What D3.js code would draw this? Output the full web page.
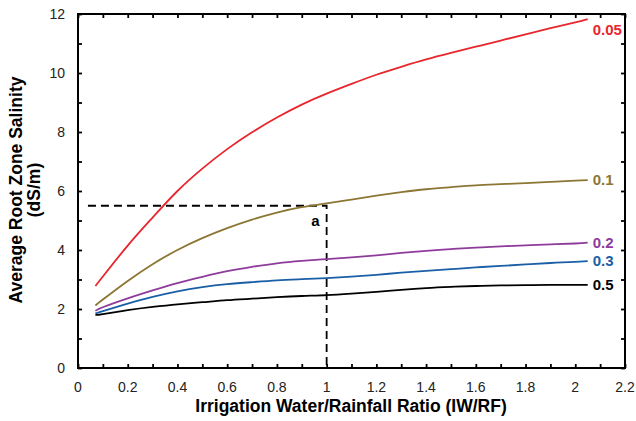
<!DOCTYPE html>
<html>
<head>
<meta charset="utf-8">
<script src="https://cdn.jsdelivr.net/npm/d3@7"></script>
<style>
  body { margin: 0; background: #fff; }
  text { font-family: "Liberation Sans", Arial, sans-serif; }
</style>
</head>
<body>
<script>
// ratio of irrigation water to rainfall
var ratio = [0.07, 0.1, 0.2, 0.3, 0.4, 0.5, 0.6, 0.7, 0.8, 0.9, 1.0, 1.1, 1.2, 1.3, 1.4, 1.5, 1.6, 1.7, 1.8, 1.9, 2.0, 2.05]

// average root zone salinity per leaching fraction
var lf005 = [2.78, 3.1, 4.15, 5.1, 6.0, 6.76, 7.42, 7.99, 8.49, 8.93, 9.3, 9.63, 9.94, 10.21, 10.46, 10.68, 10.89, 11.1, 11.31, 11.52, 11.72, 11.83]
var lf01 = [2.12, 2.32, 2.95, 3.52, 4.0, 4.4, 4.74, 5.03, 5.27, 5.45, 5.58, 5.71, 5.84, 5.96, 6.06, 6.13, 6.19, 6.23, 6.27, 6.31, 6.35, 6.37]
var lf02 = [1.94, 2.06, 2.36, 2.63, 2.88, 3.09, 3.28, 3.43, 3.55, 3.63, 3.69, 3.75, 3.82, 3.9, 3.97, 4.03, 4.08, 4.12, 4.16, 4.19, 4.22, 4.25]
var lf03 = [1.85, 1.93, 2.18, 2.41, 2.6, 2.74, 2.84, 2.91, 2.97, 3.01, 3.05, 3.1, 3.16, 3.23, 3.29, 3.35, 3.41, 3.46, 3.51, 3.56, 3.6, 3.62]
var lf05 = [1.8, 1.83, 1.96, 2.07, 2.16, 2.23, 2.3, 2.35, 2.4, 2.44, 2.47, 2.52, 2.58, 2.65, 2.71, 2.75, 2.78, 2.8, 2.81, 2.82, 2.82, 2.82]

var seriesNames = ['0.05', '0.1', '0.2', '0.3', '0.5']
var seriesValues = [lf005, lf01, lf02, lf03, lf05]
var colors = ['#e8262e', '#8c7634', '#8e3b9c', '#1a5fa6', '#000000']

var xTicks = [0, 0.2, 0.4, 0.6, 0.8, 1, 1.2, 1.4, 1.6, 1.8, 2, 2.2]
var yTicks = [0, 2, 4, 6, 8, 10, 12]

// point "a": ratio 1.0 gives 5.5 dS/m on the 0.1 curve
var markX = 1.0
var markY = 5.5
var markStart = 0.04

var width = 636
var height = 421
var plotLeft = 78, plotRight = 625, plotTop = 14, plotBottom = 368

var svg = d3.select('body')
    .append('svg')
    .attr('width', width)
    .attr('height', height)

var x = d3.scaleLinear()
    .domain([0, 2.2])
    .range([plotLeft, plotRight])

var y = d3.scaleLinear()
    .domain([0, 12])
    .range([plotBottom, plotTop])

var minorX = d3.range(0, 2.21, 0.1)
var minorY = d3.range(0, 12.1, 1)

// inward ticks on all four sides
function tickAxis(axis, g) {
    axis(g)
    g.select('.domain').remove()
    g.selectAll('line').attr('stroke', '#000').attr('stroke-width', 1.8)
}

tickAxis(d3.axisTop(x).tickValues(minorX).tickSize(4).tickFormat(''),
    svg.append('g').attr('transform', 'translate(0,' + plotBottom + ')'))
tickAxis(d3.axisBottom(x).tickValues(minorX).tickSize(4).tickFormat(''),
    svg.append('g').attr('transform', 'translate(0,' + plotTop + ')'))
tickAxis(d3.axisRight(y).tickValues(minorY).tickSize(4).tickFormat(''),
    svg.append('g').attr('transform', 'translate(' + plotLeft + ',0)'))
tickAxis(d3.axisLeft(y).tickValues(minorY).tickSize(4).tickFormat(''),
    svg.append('g').attr('transform', 'translate(' + plotRight + ',0)'))

// tick labels
svg.append('g').selectAll('text')
    .data(xTicks)
    .enter().append('text')
    .attr('x', d => x(d))
    .attr('y', plotBottom + 24)
    .attr('text-anchor', 'middle')
    .attr('font-size', 14)
    .attr('fill', '#222')
    .text(d => d)

svg.append('g').selectAll('text')
    .data(yTicks)
    .enter().append('text')
    .attr('x', plotLeft - 13)
    .attr('y', d => y(d) + 5)
    .attr('text-anchor', 'end')
    .attr('font-size', 14)
    .attr('fill', '#222')
    .text(d => d)

// frame
svg.append('rect')
    .attr('x', plotLeft)
    .attr('y', plotTop)
    .attr('width', plotRight - plotLeft)
    .attr('height', plotBottom - plotTop)
    .attr('fill', 'none')
    .attr('stroke', '#000')
    .attr('stroke-width', 2)

// dashed guide lines
svg.append('path')
    .attr('d', 'M' + x(markStart) + ',' + y(markY) + 'H' + x(markX) + 'V' + y(0))
    .attr('fill', 'none')
    .attr('stroke', '#000')
    .attr('stroke-width', 1.8)
    .attr('stroke-dasharray', '8,5')

svg.append('text')
    .attr('x', x(markX) - 7)
    .attr('y', y(markY) + 20)
    .attr('text-anchor', 'end')
    .attr('font-size', 15)
    .attr('font-weight', 'bold')
    .text('a')

var line = d3.line()
    .x((d, i) => x(ratio[i]))
    .y(d => y(d))
    .curve(d3.curveNatural)

seriesValues.forEach((vals, k) => {
    svg.append('path')
        .datum(vals)
        .attr('fill', 'none')
        .attr('stroke', colors[k])
        .attr('stroke-width', 1.8)
        .attr('d', line)

    svg.append('text')
        .attr('x', x(ratio[ratio.length - 1]) + 5)
        .attr('y', y(vals[vals.length - 1]) + (k == 0 ? 16 : 5))
        .attr('font-size', 15)
        .attr('font-weight', 'bold')
        .attr('fill', colors[k])
        .text(seriesNames[k])
})

// axis titles
svg.append('text')
    .attr('x', 351)
    .attr('y', 412)
    .attr('text-anchor', 'middle')
    .attr('font-size', 17.5)
    .attr('font-weight', 'bold')
    .text('Irrigation Water/Rainfall Ratio (IW/RF)')

var yTitle = svg.append('text')
    .attr('transform', 'translate(22,' + 190 + ') rotate(-90)')
    .attr('text-anchor', 'middle')
    .attr('font-size', 17.5)
    .attr('font-weight', 'bold')

yTitle.append('tspan').attr('x', 0).attr('dy', 0).text('Average Root Zone Salinity')
yTitle.append('tspan').attr('x', 0).attr('dy', 18).text('(dS/m)')
</script>
</body>
</html>
